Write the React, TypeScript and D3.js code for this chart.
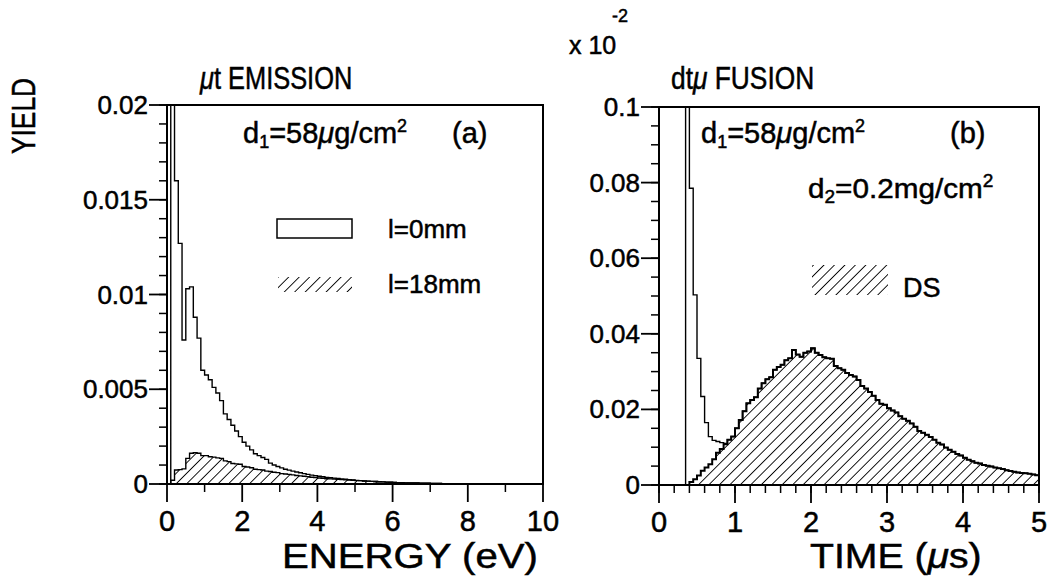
import React from 'react';
import * as d3 from 'd3';

// ---------------- DATA ----------------
// Panel (a): muon-t emission, energy histogram, bin width 0.1 eV, 0..10 eV
const energyBinWidth = 0.1;
const openEmission = [
  0, 0.03, 0.016, 0.0127, 0.0076, 0.0103, 0.0104, 0.0088, 0.0077, 0.006,
  0.00575, 0.0055, 0.0051, 0.0048, 0.0044, 0.0037, 0.0034, 0.0031, 0.0028, 0.0025,
  0.0022, 0.002, 0.0018, 0.0016, 0.0015, 0.0014, 0.0013, 0.0011, 0.001, 0.00092,
  0.00085, 0.00078, 0.00073, 0.00068, 0.00063, 0.00059, 0.00055, 0.00051, 0.00047, 0.00044,
  0.00041, 0.00038, 0.00035, 0.00033, 0.00031, 0.00029, 0.00027, 0.00025, 0.00023, 0.00021,
  0.00019, 0.00018, 0.00016, 0.00015, 0.00014, 0.00013, 0.00012, 0.00011, 0.0001, 0.00009,
  0.00008, 0.00007, 0.00007, 0.00006, 0.00006, 0.00005, 0.00005, 0.00004, 0.00004, 0.00004,
  0.00003, 0.00003, 0.00003, 0.00002, 0.00002, 0.00002, 0.00002, 0.00002, 0.00001, 0.00001,
  0.00001, 0.00001, 0.00001, 0.00001, 0.00001, 0.00001, 0.00001, 0.00001, 0.00001, 0.00001,
  0, 0, 0, 0, 0, 0, 0, 0, 0, 0,
];
const hatchEmission = [
  0, 0.0002, 0.00074, 0.00076, 0.0008, 0.00135, 0.00162, 0.00165, 0.00162, 0.0015,
  0.0015, 0.00144, 0.00142, 0.00138, 0.00135, 0.00122, 0.00118, 0.00108, 0.00106, 0.00104,
  0.00092, 0.0009, 0.00086, 0.00078, 0.00076, 0.00074, 0.00068, 0.00066, 0.00062, 0.0006,
  0.00055, 0.00053, 0.00051, 0.00048, 0.00045, 0.00043, 0.00041, 0.00039, 0.00036, 0.00034,
  0.00032, 0.0003, 0.00028, 0.00027, 0.00026, 0.00025, 0.00023, 0.00022, 0.00021, 0.0002,
  0.00018, 0.00018, 0.00016, 0.00015, 0.00014, 0.00013, 0.00012, 0.00011, 0.0001, 0.00009,
  0.00008, 0.00007, 0.00007, 0.00006, 0.00006, 0.00005, 0.00005, 0.00004, 0.00004, 0.00004,
  0.00003, 0.00003, 0.00003, 0.00002, 0.00002, 0.00002, 0.00002, 0.00002, 0.00001, 0.00001,
  0.00001, 0.00001, 0.00001, 0.00001, 0.00001, 0.00001, 0.00001, 0.00001, 0.00001, 0.00001,
  0, 0, 0, 0, 0, 0, 0, 0, 0, 0,
];

// Panel (b): dt-mu fusion time histogram, bin width 0.05 us, 0..5 us
const timeBinWidth = 0.05;
const openFusion = [
  0, 0, 0, 0, 0, 0, 0, 0.15, 0.0785, 0.0503,
  0.0335, 0.0234, 0.0165, 0.0128, 0.0118, 0.0115, 0.0112, 0.011, 0.012, 0.0128,
  0.015, 0.0172, 0.0195, 0.0216, 0.0225, 0.0232, 0.0255, 0.0269, 0.028, 0.0285,
  0.0305, 0.0312, 0.0318, 0.033, 0.0335, 0.0357, 0.0345, 0.0339, 0.035, 0.0353,
  0.0362, 0.035, 0.0344, 0.0338, 0.0335, 0.0334, 0.0315, 0.0309, 0.0305, 0.0296,
  0.0291, 0.0287, 0.0278, 0.0262, 0.0255, 0.0246, 0.0236, 0.0225, 0.0215, 0.0212,
  0.0203, 0.0197, 0.0192, 0.0182, 0.0175, 0.017, 0.0163, 0.0154, 0.0143, 0.0138,
  0.0133, 0.0127, 0.012, 0.0112, 0.0107, 0.0099, 0.0093, 0.0088, 0.0082, 0.0078,
  0.0072, 0.0067, 0.0063, 0.0059, 0.0057, 0.0053, 0.0051, 0.0049, 0.0046, 0.0044,
  0.0042, 0.0039, 0.0037, 0.0035, 0.0033, 0.0032, 0.0031, 0.003, 0.0028, 0.0026,
];
const hatchFusion = [
  0, 0, 0, 0, 0, 0, 0, 0, 0.0008, 0.0015,
  0.0025, 0.0038, 0.0046, 0.0055, 0.0068, 0.0085, 0.0095, 0.0108, 0.012, 0.0128,
  0.015, 0.0172, 0.0195, 0.0216, 0.0225, 0.0232, 0.0255, 0.0269, 0.028, 0.0285,
  0.0305, 0.0312, 0.0318, 0.033, 0.0335, 0.0357, 0.0345, 0.0339, 0.035, 0.0353,
  0.0362, 0.035, 0.0344, 0.0338, 0.0335, 0.0334, 0.0315, 0.0309, 0.0305, 0.0296,
  0.0291, 0.0287, 0.0278, 0.0262, 0.0255, 0.0246, 0.0236, 0.0225, 0.0215, 0.0212,
  0.0203, 0.0197, 0.0192, 0.0182, 0.0175, 0.017, 0.0163, 0.0154, 0.0143, 0.0138,
  0.0133, 0.0127, 0.012, 0.0112, 0.0107, 0.0099, 0.0093, 0.0088, 0.0082, 0.0078,
  0.0072, 0.0067, 0.0063, 0.0059, 0.0057, 0.0053, 0.0051, 0.0049, 0.0046, 0.0044,
  0.0042, 0.0039, 0.0037, 0.0035, 0.0033, 0.0032, 0.0031, 0.003, 0.0028, 0.0026,
];

// Ticks
const energyMajor = [0, 2, 4, 6, 8, 10];
const energyMajorLabels = ['0', '2', '4', '6', '8', '10'];
const energyMinor = [1, 3, 5, 7, 9];
const yieldAMajor = [0, 0.005, 0.01, 0.015, 0.02];
const yieldAMajorLabels = ['0', '0.005', '0.01', '0.015', '0.02'];
const yieldAMinorStep = 0.001;
const timeMajor = [0, 1, 2, 3, 4, 5];
const timeMajorLabels = ['0', '1', '2', '3', '4', '5'];
const timeMinorStep = 0.2;
const yieldBMajor = [0, 0.02, 0.04, 0.06, 0.08, 0.1];
const yieldBMajorLabels = ['0', '0.02', '0.04', '0.06', '0.08', '0.1'];
const yieldBMinorStep = 0.005;

// ---------------- STYLE ----------------
const FONT = "'Liberation Sans', Arial, Helvetica, sans-serif";
const INK = '#000';
const TXT = { fontFamily: FONT, fill: INK, stroke: INK, strokeWidth: 0.5 } as const;

function histPath(values: number[], binW: number, x: any, y: any) {
  const p = d3.path();
  p.moveTo(x(0), y(0));
  values.forEach((v, i) => {
    p.lineTo(x(i * binW), y(v));
    p.lineTo(x((i + 1) * binW), y(v));
  });
  p.lineTo(x(values.length * binW), y(0));
  return p.toString();
}

function minorTicks(max: number, step: number) {
  const n = Math.round(max / step);
  return d3.range(0, n + 1).map((i) => i * step);
}

type PanelProps = {
  id: string;
  left: number; right: number; top: number; bottom: number;
  xMax: number; yMax: number;
  xMajor: number[]; xMajorLabels: string[]; xMinor: number[];
  yMajor: number[]; yMajorLabels: string[]; yMinor: number[];
  open: number[]; hatch: number[]; binW: number;
  hatchStroke: number;
};

function Panel(p: PanelProps) {
  const x = d3.scaleLinear().domain([0, p.xMax]).range([p.left, p.right]);
  const y = d3.scaleLinear().domain([0, p.yMax]).range([p.bottom, p.top]);
  const majLen = 18, minLen = 8;
  return (
    <g>
      <defs>
        <clipPath id={`clip-${p.id}`}>
          <rect x={p.left} y={p.top} width={p.right - p.left} height={p.bottom - p.top} />
        </clipPath>
      </defs>
      <g clipPath={`url(#clip-${p.id})`}>
        <path d={histPath(p.hatch, p.binW, x, y)} fill="url(#hatch)" stroke="none" />
        <path d={histPath(p.hatch, p.binW, x, y)} fill="none" stroke={INK} strokeWidth={p.hatchStroke} />
        <path d={histPath(p.open, p.binW, x, y)} fill="none" stroke={INK} strokeWidth={1.4} />
      </g>
      <rect x={p.left} y={p.top} width={p.right - p.left} height={p.bottom - p.top}
        fill="none" stroke={INK} strokeWidth={2} />
      {p.xMinor.map((v) => (
        <line key={`xm${v}`} x1={x(v)} x2={x(v)} y1={p.bottom} y2={p.bottom + minLen} stroke={INK} strokeWidth={1.5} />
      ))}
      {p.xMajor.map((v, i) => (
        <g key={`xM${v}`}>
          <line x1={x(v)} x2={x(v)} y1={p.bottom} y2={p.bottom + majLen} stroke={INK} strokeWidth={1.8} />
          <text x={x(v)} y={p.bottom + 47} textAnchor="middle" fontSize={29} {...TXT}>
            {p.xMajorLabels[i]}
          </text>
        </g>
      ))}
      {p.yMinor.map((v) => (
        <line key={`ym${v}`} x1={p.left - minLen} x2={p.left} y1={y(v)} y2={y(v)} stroke={INK} strokeWidth={1.5} />
      ))}
      {p.yMajor.map((v, i) => (
        <g key={`yM${v}`}>
          <line x1={p.left - majLen} x2={p.left} y1={y(v)} y2={y(v)} stroke={INK} strokeWidth={1.8} />
          <text x={p.left - majLen - 1} y={y(v) + 9} textAnchor="end" fontSize={26} {...TXT}>
            {p.yMajorLabels[i]}
          </text>
        </g>
      ))}
    </g>
  );
}

export default function App() {
  return (
    <svg width={1050} height={579} viewBox="0 0 1050 579"
      style={{ position: 'absolute', left: 0, top: 0, background: '#fff' }}>
      <defs>
        <pattern id="hatch" patternUnits="userSpaceOnUse" width={7.4} height={7.4}
          patternTransform="rotate(45)">
          <line x1={0} y1={0} x2={0} y2={7.4} stroke={INK} strokeWidth={1.8} />
        </pattern>
      </defs>
      <rect x={0} y={0} width={1050} height={579} fill="#fff" />

      <Panel id="a" left={167} right={543} top={105} bottom={484} xMax={10} yMax={0.02}
        xMajor={energyMajor} xMajorLabels={energyMajorLabels} xMinor={energyMinor}
        yMajor={yieldAMajor} yMajorLabels={yieldAMajorLabels} yMinor={minorTicks(0.02, yieldAMinorStep)}
        open={openEmission} hatch={hatchEmission} binW={energyBinWidth} hatchStroke={1.4} />

      <Panel id="b" left={659} right={1039} top={107} bottom={485} xMax={5} yMax={0.1}
        xMajor={timeMajor} xMajorLabels={timeMajorLabels} xMinor={minorTicks(5, timeMinorStep)}
        yMajor={yieldBMajor} yMajorLabels={yieldBMajorLabels} yMinor={minorTicks(0.1, yieldBMinorStep)}
        open={openFusion} hatch={hatchFusion} binW={timeBinWidth} hatchStroke={2} />

      {/* Axis titles */}
      <text transform="translate(35,116) rotate(-90)" textAnchor="middle" fontSize={34}
        textLength={76} lengthAdjust="spacingAndGlyphs" {...TXT}>YIELD</text>
      <text x={282} y={568} fontSize={35} textLength={256} lengthAdjust="spacingAndGlyphs" {...TXT}>ENERGY (eV)</text>
      <text transform="translate(810,568) scale(1.12,1)" fontSize={35} {...TXT}>
        TIME (<tspan fontStyle="italic">μ</tspan>s)
      </text>

      {/* Panel titles */}
      <text transform="translate(200,89) scale(0.82,1)" fontSize={31} {...TXT}>
        <tspan fontStyle="italic">μ</tspan>t EMISSION
      </text>
      <text transform="translate(671,89) scale(0.85,1)" fontSize={31} {...TXT}>
        dt<tspan fontStyle="italic">μ</tspan> FUSION
      </text>
      <text x={569} y={54} fontSize={25} {...TXT}>x 10</text>
      <text x={612} y={22} fontSize={18} {...TXT}>-2</text>

      {/* Annotations panel a */}
      <text x={243} y={143} fontSize={29} {...TXT}>
        d<tspan fontSize={18} dy={5}>1</tspan><tspan dy={-5}>=58</tspan><tspan fontStyle="italic">μ</tspan>g/cm<tspan fontSize={18} dy={-11}>2</tspan>
      </text>
      <text x={452} y={143} fontSize={29} {...TXT}>(a)</text>

      {/* Legend panel a */}
      <rect x={277} y={219} width={75} height={19} fill="none" stroke={INK} strokeWidth={1.5} />
      <text x={388} y={238} fontSize={26} {...TXT}>l=0mm</text>
      <rect x={278} y={277} width={74} height={15} fill="url(#hatch)" />
      <text x={388} y={293} fontSize={26} {...TXT}>l=18mm</text>

      {/* Annotations panel b */}
      <text x={701} y={143} fontSize={29} {...TXT}>
        d<tspan fontSize={18} dy={5}>1</tspan><tspan dy={-5}>=58</tspan><tspan fontStyle="italic">μ</tspan>g/cm<tspan fontSize={18} dy={-11}>2</tspan>
      </text>
      <text x={950} y={143} fontSize={29} {...TXT}>(b)</text>
      <text transform="translate(808,198) scale(1.06,1)" fontSize={28} {...TXT}>
        d<tspan fontSize={18} dy={5}>2</tspan><tspan dy={-5}>=0.2mg/cm</tspan><tspan fontSize={18} dy={-11}>2</tspan>
      </text>

      {/* Legend panel b */}
      <rect x={812} y={265} width={76} height={30} fill="url(#hatch)" />
      <text x={903} y={297} fontSize={27} {...TXT}>DS</text>
    </svg>
  );
}
